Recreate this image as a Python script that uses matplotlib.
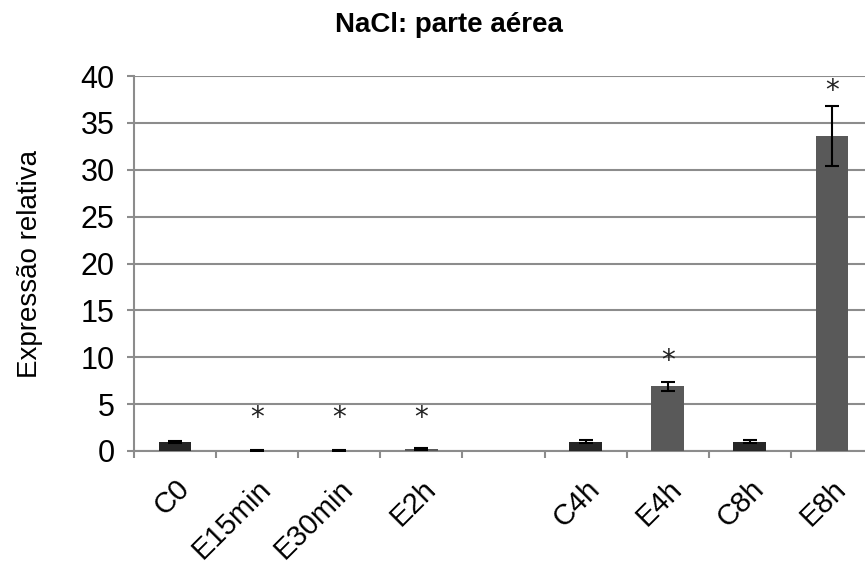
import numpy as np
import matplotlib.pyplot as plt

plt.rcParams['font.family'] = ['Liberation Sans', 'DejaVu Sans']

# data (empty slot between E2h and C4h)
labels = ['C0', 'E15min', 'E30min', 'E2h', '', 'C4h', 'E4h', 'C8h', 'E8h']
values = [1.0, 0.05, 0.05, 0.2, np.nan, 1.0, 6.9, 1.0, 33.6]
errors = [0.12, 0.03, 0.03, 0.1, np.nan, 0.15, 0.5, 0.15, 3.15]
stars = [False, True, True, True, False, False, True, False, True]
star_y = [None, 3.5, 3.5, 3.5, None, None, 9.6, None, 38.4]
colors = ['#262626', '#595959', '#595959', '#595959', '#595959',
          '#262626', '#595959', '#262626', '#595959']

fig = plt.figure(figsize=(8.65, 5.69), dpi=100)
ax = fig.add_axes([134/865, 1-451/569, 739/865, 375/569])

x = np.arange(len(labels))
ax.bar(x, values, width=0.4, color=colors, zorder=3)
ax.errorbar(x, values, yerr=errors, fmt='none', ecolor='black',
            elinewidth=1.5, capsize=5, capthick=1.5, zorder=4)

for i in range(len(labels)):
    if stars[i]:
        ax.text(x[i], star_y[i], '*', ha='center', va='center',
                fontsize=20, family='DejaVu Sans', color='#222222')

ax.set_xlim(-0.5, len(labels) - 0.5)
ax.set_ylim(0, 40)
ax.set_yticks(np.arange(0, 41, 5))
ax.yaxis.grid(True, color='#8c8c8c', linewidth=1.5, zorder=0)

# category boundary ticks
ax.set_xticks(np.arange(len(labels) + 1) - 0.5, minor=False)
ax.set_xticklabels([])
ax.set_xticks(x, minor=True)
ax.set_xticklabels(labels, minor=True, rotation=45, ha='right',
                   rotation_mode='anchor', fontsize=21)
ax.tick_params(axis='x', which='minor', length=0, pad=17)
ax.tick_params(axis='x', which='major', length=5, width=1.5, color='#8c8c8c')
ax.tick_params(axis='y', length=5, width=1.5, color='#8c8c8c',
               labelsize=22, pad=9)

for s in ['top', 'right']:
    ax.spines[s].set_visible(False)
ax.spines['left'].set_color('#8c8c8c')
ax.spines['left'].set_linewidth(1.5)
ax.spines['bottom'].set_color('#8c8c8c')
ax.spines['bottom'].set_linewidth(1.5)

fig.text(30/865, 1-264/569, 'Expressão relativa', rotation=90,
         ha='center', va='center', fontsize=20)
fig.text(449/865, 1-25/569, 'NaCl: parte aérea', ha='center', va='center',
         fontsize=20, fontweight='bold')

fig.savefig('out.png', dpi=100)
